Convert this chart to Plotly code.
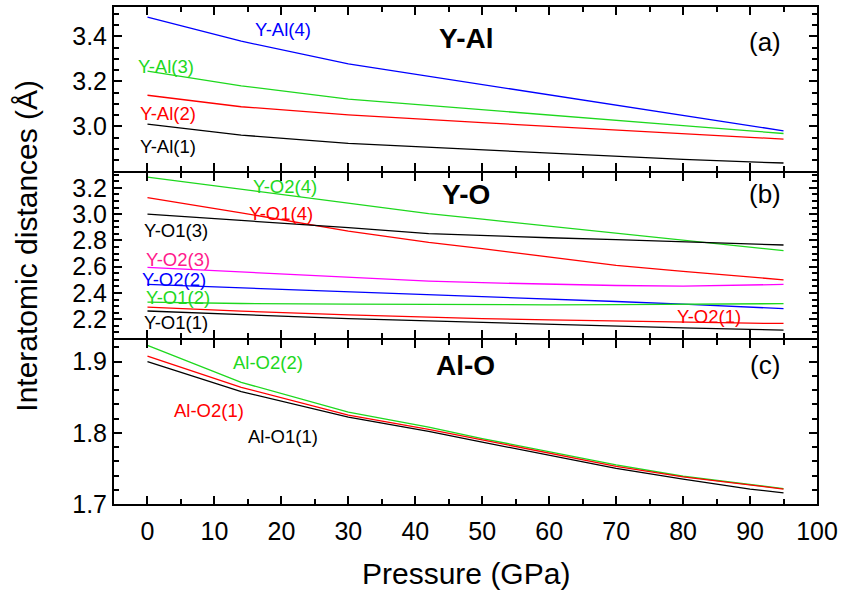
import plotly.graph_objects as go
from plotly.subplots import make_subplots

# ---------------- data ----------------
pressure = [0, 14, 30, 42, 50, 60, 70, 80, 90, 95]

# (a) Y-Al
y_al1 = [3.010, 2.961, 2.924, 2.907, 2.895, 2.880, 2.866, 2.853, 2.842, 2.837]
y_al2 = [3.138, 3.087, 3.051, 3.029, 3.016, 3.000, 2.983, 2.967, 2.951, 2.943]
y_al3 = [3.245, 3.180, 3.121, 3.092, 3.073, 3.050, 3.026, 3.003, 2.980, 2.968]
y_al4 = [3.485, 3.378, 3.277, 3.222, 3.184, 3.139, 3.094, 3.048, 3.003, 2.980]

# (b) Y-O
y_o1_1 = [2.263, 2.235, 2.205, 2.187, 2.175, 2.160, 2.147, 2.135, 2.123, 2.117]
y_o2_1 = [2.293, 2.262, 2.233, 2.213, 2.205, 2.195, 2.185, 2.176, 2.170, 2.168]
y_o1_2 = [2.331, 2.320, 2.315, 2.311, 2.310, 2.310, 2.312, 2.315, 2.318, 2.319]
y_o2_2 = [2.465, 2.440, 2.410, 2.390, 2.375, 2.355, 2.335, 2.315, 2.292, 2.281]
y_o2_3 = [2.595, 2.560, 2.520, 2.490, 2.478, 2.466, 2.457, 2.452, 2.458, 2.465]
y_o1_3 = [2.999, 2.952, 2.897, 2.852, 2.836, 2.820, 2.805, 2.789, 2.773, 2.765]
y_o1_4 = [3.125, 3.010, 2.870, 2.784, 2.737, 2.673, 2.610, 2.565, 2.522, 2.500]
y_o2_4 = [3.281, 3.190, 3.085, 3.004, 2.961, 2.908, 2.855, 2.800, 2.748, 2.722]

# (c) Al-O
al_o1_1 = [1.900, 1.858, 1.822, 1.802, 1.787, 1.768, 1.750, 1.735, 1.721, 1.7156]
al_o2_1 = [1.908, 1.864, 1.825, 1.805, 1.790, 1.771, 1.753, 1.738, 1.726, 1.721]
al_o2_2 = [1.923, 1.871, 1.829, 1.808, 1.792, 1.773, 1.755, 1.739, 1.727, 1.7216]

x_ticks = [0, 10, 20, 30, 40, 50, 60, 70, 80, 90, 100]
ya_ticks = [3.0, 3.2, 3.4]
yb_ticks = [2.2, 2.4, 2.6, 2.8, 3.0, 3.2]
yc_ticks = [1.7, 1.8, 1.9]

BLACK = "#000000"
RED = "#FF0000"
GREEN = "#1ED81E"
BLUE = "#0000FF"
MAGENTA = "#FF00FF"
PINK = "#FF1A8C"

FONT = "Liberation Sans, Arial, sans-serif"

fig = make_subplots(rows=3, cols=1, shared_xaxes=True, vertical_spacing=0.004)

def add(row, ys, color):
    fig.add_trace(go.Scatter(x=pressure, y=ys, mode="lines",
                             line=dict(color=color, width=1.3),
                             showlegend=False, hoverinfo="skip"),
                  row=row, col=1)

add(1, y_al1, BLACK); add(1, y_al2, RED); add(1, y_al3, GREEN); add(1, y_al4, BLUE)
add(2, y_o2_4, GREEN); add(2, y_o1_4, RED); add(2, y_o1_3, BLACK)
add(2, y_o2_3, MAGENTA); add(2, y_o2_2, BLUE); add(2, y_o1_2, GREEN)
add(2, y_o2_1, RED); add(2, y_o1_1, BLACK)
add(3, al_o2_2, GREEN); add(3, al_o2_1, RED); add(3, al_o1_1, BLACK)

labels = [
    (1, 20.2, 3.431, "Y-Al(4)", BLUE),
    (1, 2.75, 3.266, "Y-Al(3)", GREEN),
    (1, 3.0, 3.055, "Y-Al(2)", RED),
    (1, 3.0, 2.910, "Y-Al(1)", BLACK),
    (2, 20.5, 3.208, "Y-O2(4)", GREEN),
    (2, 20.0, 3.007, "Y-O1(4)", RED),
    (2, 4.24, 2.873, "Y-O1(3)", BLACK),
    (2, 4.6, 2.656, "Y-O2(3)", PINK),
    (2, 4.0, 2.506, "Y-O2(2)", BLUE),
    (2, 4.5, 2.368, "Y-O1(2)", GREEN),
    (2, 4.24, 2.178, "Y-O1(1)", BLACK),
    (2, 83.9, 2.223, "Y-O2(1)", RED),
    (3, 18.0, 1.899, "Al-O2(2)", GREEN),
    (3, 9.2, 1.831, "Al-O2(1)", RED),
    (3, 20.3, 1.795, "Al-O1(1)", BLACK),
]
for row, x, y, t, c in labels:
    fig.add_annotation(x=x, y=y, text=t, showarrow=False, borderpad=0,
                       font=dict(family=FONT, size=18.5, color=c),
                       row=row, col=1)

titles = [(1, 3.39, 3.376, "Y-Al", "(a)"),
          (2, 3.15, 3.15, "Y-O", "(b)"),
          (3, 1.895, 1.895, "Al-O", "(c)")]
for row, yb, yp, bt, pt in titles:
    fig.add_annotation(x=47.5, y=yb, text="<b>" + bt + "</b>", showarrow=False,
                       font=dict(family=FONT, size=28, color=BLACK), row=row, col=1)
    fig.add_annotation(x=92.2, y=yp, text=pt, showarrow=False,
                       font=dict(family=FONT, size=26, color=BLACK), row=row, col=1)

axis_common = dict(showline=True, linecolor="black", linewidth=2, mirror="allticks",
                   ticks="inside", ticklen=8, tickwidth=1.5, tickcolor="black",
                   showgrid=False, zeroline=False,
                   tickfont=dict(family=FONT, size=25, color="black"))

for r in (1, 2, 3):
    fig.update_xaxes(range=[-5, 100], tickvals=x_ticks,
                     minor=dict(ticks="inside", ticklen=5, dtick=5, tick0=0,
                                tickcolor="black", tickwidth=1.5),
                     ticklabelstandoff=4,
                     showticklabels=(r == 3), row=r, col=1, **axis_common)

fig.update_yaxes(range=[2.8, 3.53], tickvals=ya_ticks, tickformat=".1f",
                 minor=dict(ticks="inside", ticklen=5, dtick=0.05, tick0=3.0,
                            tickcolor="black", tickwidth=1.5),
                 row=1, col=1, **axis_common)
fig.update_yaxes(range=[2.06, 3.31], tickvals=yb_ticks, tickformat=".1f",
                 minor=dict(ticks="inside", ticklen=5, dtick=0.05, tick0=2.2,
                            tickcolor="black", tickwidth=1.5),
                 row=2, col=1, **axis_common)
fig.update_yaxes(range=[1.7, 1.931], tickvals=yc_ticks, tickformat=".1f",
                 minor=dict(ticks="inside", ticklen=5, dtick=0.02, tick0=1.7,
                            tickcolor="black", tickwidth=1.5),
                 row=3, col=1, **axis_common)

fig.update_layout(
    width=843, height=597,
    margin=dict(l=114, r=23, t=5, b=93),
    plot_bgcolor="white", paper_bgcolor="white",
    font=dict(family=FONT, color="black"),
    showlegend=False,
)

fig.add_annotation(xref="paper", yref="paper", x=0.5, y=-0.14, xanchor="center",
                   yanchor="middle", text="Pressure (GPa)", showarrow=False,
                   font=dict(family=FONT, size=30, color="black"))
fig.add_annotation(xref="paper", yref="paper", x=-0.125, y=0.52, xanchor="center",
                   yanchor="middle", text="Interatomic distances (Å)", textangle=-90,
                   showarrow=False, font=dict(family=FONT, size=30, color="black"))

fig.write_html("out.html")
